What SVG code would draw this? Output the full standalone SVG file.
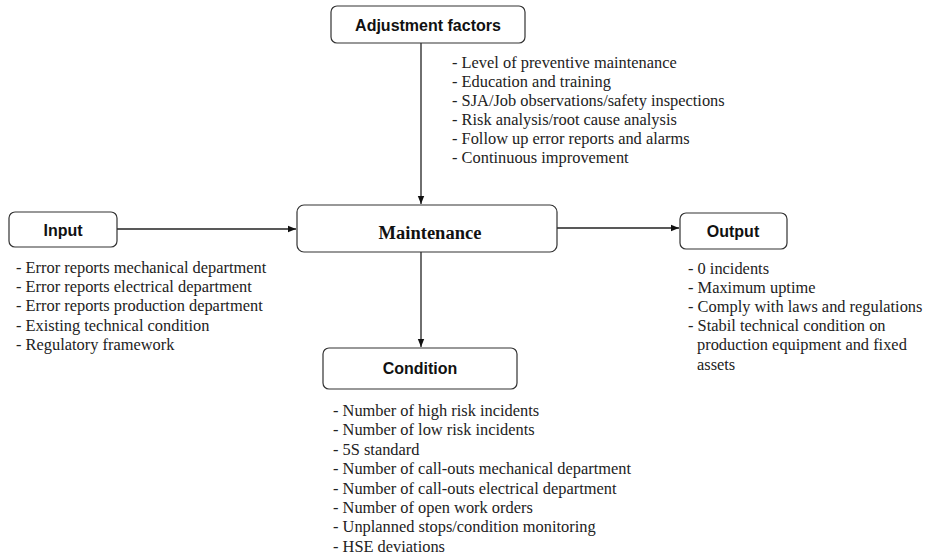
<svg xmlns="http://www.w3.org/2000/svg" width="926" height="557" viewBox="0 0 926 557">
<style>
.box{fill:#fff;stroke:#333;stroke-width:1.2}
.title{font-family:"Liberation Sans",Arial,sans-serif;font-weight:bold;font-size:16px;fill:#111;text-anchor:middle}
.main{font-family:"Liberation Serif","Times New Roman",serif;font-weight:bold;font-size:18.5px;fill:#111;text-anchor:middle}
.list{font-family:"Liberation Serif","Times New Roman",serif;font-size:16.4px;fill:#222}
.conn{stroke:#222;stroke-width:1.3;fill:none}
</style>
<defs>
<marker id="arr" viewBox="0 0 10 10" refX="10" refY="5" markerWidth="8" markerHeight="8" markerUnits="userSpaceOnUse" orient="auto">
<path d="M0,1 L10,5 L0,9 z" fill="#111"/>
</marker>
</defs>
<rect width="926" height="557" fill="#fff"/>
<g id="connectors">
<line class="conn" x1="421" y1="43" x2="421" y2="204" marker-end="url(#arr)"/>
<line class="conn" x1="117" y1="229" x2="296" y2="229" marker-end="url(#arr)"/>
<line class="conn" x1="557" y1="228" x2="679" y2="228" marker-end="url(#arr)"/>
<line class="conn" x1="421" y1="252" x2="421" y2="347" marker-end="url(#arr)"/>
</g>
<g id="adjustment">
<rect class="box" x="331" y="6" width="194" height="37" rx="6"/>
<text class="title" x="428" y="30.5">Adjustment factors</text>
<text class="list" x="452" y="68">- Level of preventive maintenance</text>
<text class="list" x="452" y="87">- Education and training</text>
<text class="list" x="452" y="106">- SJA/Job observations/safety inspections</text>
<text class="list" x="452" y="125">- Risk analysis/root cause analysis</text>
<text class="list" x="452" y="144">- Follow up error reports and alarms</text>
<text class="list" x="452" y="163">- Continuous improvement</text>
</g>
<g id="input">
<rect class="box" x="9" y="212" width="108" height="35" rx="6"/>
<text class="title" x="63" y="235.5">Input</text>
<text class="list" x="16" y="273">- Error reports mechanical department</text>
<text class="list" x="16" y="292">- Error reports electrical department</text>
<text class="list" x="16" y="311">- Error reports production department</text>
<text class="list" x="16" y="331">- Existing technical condition</text>
<text class="list" x="16" y="350">- Regulatory framework</text>
</g>
<g id="maintenance">
<rect class="box" x="297" y="205" width="260" height="47" rx="7"/>
<text class="main" x="430" y="239">Maintenance</text>
</g>
<g id="output">
<rect class="box" x="680" y="213" width="107" height="36" rx="6"/>
<text class="title" x="733" y="237">Output</text>
<text class="list" x="688" y="274">- 0 incidents</text>
<text class="list" x="688" y="293">- Maximum uptime</text>
<text class="list" x="688" y="312">- Comply with laws and regulations</text>
<text class="list" x="688" y="331">- Stabil technical condition on</text>
<text class="list" x="697" y="350">production equipment and fixed</text>
<text class="list" x="697" y="370">assets</text>
</g>
<g id="condition">
<rect class="box" x="323" y="348" width="194" height="41" rx="6"/>
<text class="title" x="420" y="374">Condition</text>
<text class="list" x="333" y="416">- Number of high risk incidents</text>
<text class="list" x="333" y="435">- Number of low risk incidents</text>
<text class="list" x="333" y="455">- 5S standard</text>
<text class="list" x="333" y="474">- Number of call-outs mechanical department</text>
<text class="list" x="333" y="494">- Number of call-outs electrical department</text>
<text class="list" x="333" y="513">- Number of open work orders</text>
<text class="list" x="333" y="532">- Unplanned stops/condition monitoring</text>
<text class="list" x="333" y="552">- HSE deviations</text>
</g>
</svg>
